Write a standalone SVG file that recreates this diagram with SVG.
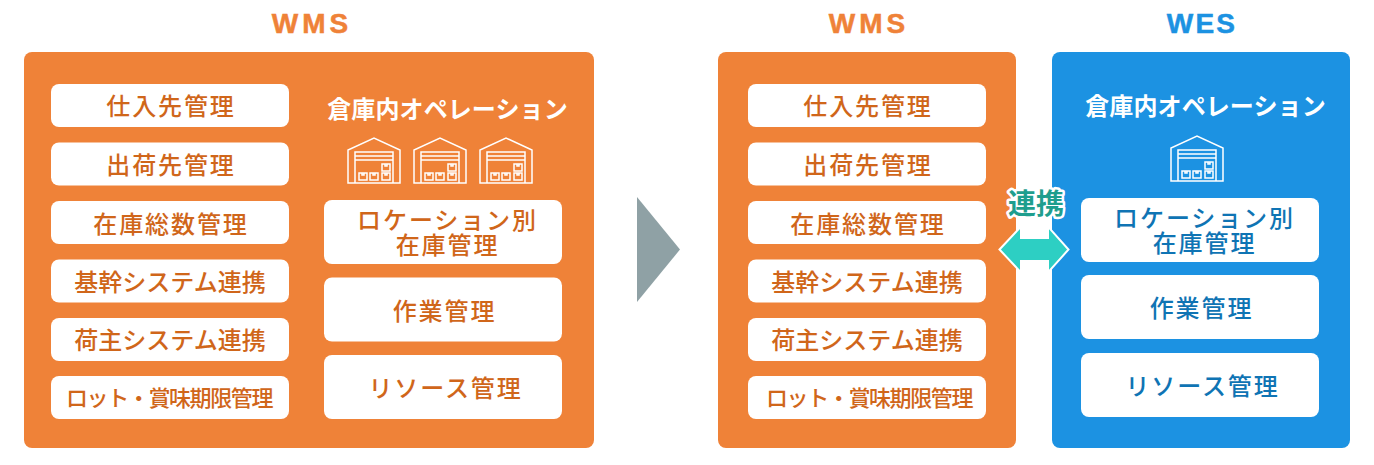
<svg xmlns="http://www.w3.org/2000/svg" width="1374" height="465" viewBox="0 0 1374 465">
<style>
text{font-family:"Noto Sans CJK JP","Noto Sans",sans-serif;text-anchor:middle;font-weight:500}
.o{fill:#ef8238}.b{fill:#1c92e2}.w{fill:#fff}
.to{fill:#d0661a;font-size:24px;letter-spacing:1.9px}
.tb{fill:#0f74b4;font-size:24px;letter-spacing:1.9px}
.k{letter-spacing:0}
.lot{font-size:22px;letter-spacing:-1.4px}
.h{font-size:28px;font-weight:700;letter-spacing:4px;font-family:"Liberation Sans",Arial,sans-serif;stroke-width:.5px}
.s{fill:#fff;font-size:24px;letter-spacing:.1px;font-weight:700}
.ic{fill:none;stroke:#fff;stroke-width:1.5}
</style>
<defs>
<g id="wh" class="ic">
<path d="M1 46V13L27 1L53 13V46Z"/>
<path d="M8 46V15H46V46M8 19H46M8 23H46"/>
<rect x="12" y="36" width="8" height="7"/><rect x="23" y="36" width="8" height="7"/><rect x="35" y="36" width="8" height="7"/><rect x="35" y="27" width="8" height="7"/>
<path d="M15 36v2h2v-2M26 36v2h2v-2M38 36v2h2v-2M38 27v2h2v-2"/>
</g>
<g id="leftcol">
<rect class="w" x="0" y="0" width="238" height="43" rx="8"/>
<rect class="w" x="0" y="58.500" width="238" height="43" rx="8"/>
<rect class="w" x="0" y="117" width="238" height="43" rx="8"/>
<rect class="w" x="0" y="175.500" width="238" height="43" rx="8"/>
<rect class="w" x="0" y="234" width="238" height="43" rx="8"/>
<rect class="w" x="0" y="292" width="238" height="43" rx="8"/>
<text class="to" x="120" y="31">仕入先管理</text>
<text class="to" x="120" y="90">出荷先管理</text>
<text class="to" x="120" y="148.500">在庫総数管理</text>
<text class="to k" x="119" y="207">基幹システム連携</text>
<text class="to k" x="119" y="265">荷主システム連携</text>
</g>
</defs>

<g id="connectors">
<path id="chevron" d="M637 197L680 249.500L637 302Z" fill="#8fa1a5"/>
</g>

<g id="wms-left">
<text class="h" x="312" y="33" fill="#ef8238" stroke="#ef8238">WMS</text>
<rect class="o" x="24" y="52" width="570" height="396" rx="8"/>
<use href="#leftcol" x="51" y="84"/>
<text class="to lot" x="169" y="406">ロット・賞味期限管理</text>
<text class="s" x="447.500" y="118">倉庫内オペレーション</text>
<use href="#wh" x="347" y="137"/><use href="#wh" x="413" y="137"/><use href="#wh" x="479" y="137"/>
<rect class="w" x="324" y="200" width="238" height="64" rx="8"/>
<rect class="w" x="324" y="277.500" width="238" height="64" rx="8"/>
<rect class="w" x="324" y="355" width="238" height="64" rx="8"/>
<text class="to"><tspan x="447.500" y="229">ロケーション別</tspan><tspan x="447.500" y="253.500">在庫管理</tspan></text>
<text class="to" x="444.500" y="320">作業管理</text>
<text class="to" x="445.500" y="397">リソース管理</text>
</g>

<g id="wms-right">
<text class="h" x="869" y="33" fill="#ef8238" stroke="#ef8238">WMS</text>
<rect class="o" x="718" y="52" width="298" height="396" rx="8"/>
<use href="#leftcol" x="748" y="84"/>
<text class="to lot" x="869" y="406">ロット・賞味期限管理</text>
</g>

<g id="wes">
<text class="h" x="1202" y="33" fill="#1c92e2" stroke="#1c92e2" style="letter-spacing:2.200px">WES</text>
<rect class="b" x="1052" y="52" width="298" height="396" rx="8"/>
<text class="s" x="1205.500" y="115">倉庫内オペレーション</text>
<use href="#wh" x="1170" y="135"/>
<rect class="w" x="1081" y="198" width="238" height="64" rx="8"/>
<rect class="w" x="1081" y="275" width="238" height="64" rx="8"/>
<rect class="w" x="1081" y="353" width="238" height="64" rx="8"/>
<text class="tb"><tspan x="1204.500" y="227">ロケーション別</tspan><tspan x="1204.500" y="251.500">在庫管理</tspan></text>
<text class="tb" x="1201.500" y="317">作業管理</text>
<text class="tb" x="1202.500" y="395">リソース管理</text>
</g>

<g id="link">
<path d="M999.500 249.500L1021 226.500V238H1048V226.500L1068.500 249.500L1048 272.500V261H1021V272.500Z" fill="#2dcfc3" stroke="#fff" stroke-width="2"/>
<text x="1036" y="214" style="font-size:28px;font-weight:700;paint-order:stroke;stroke:#fff;stroke-width:5px;stroke-linejoin:round" fill="#1f9e8e">連携</text>
</g>
</svg>
